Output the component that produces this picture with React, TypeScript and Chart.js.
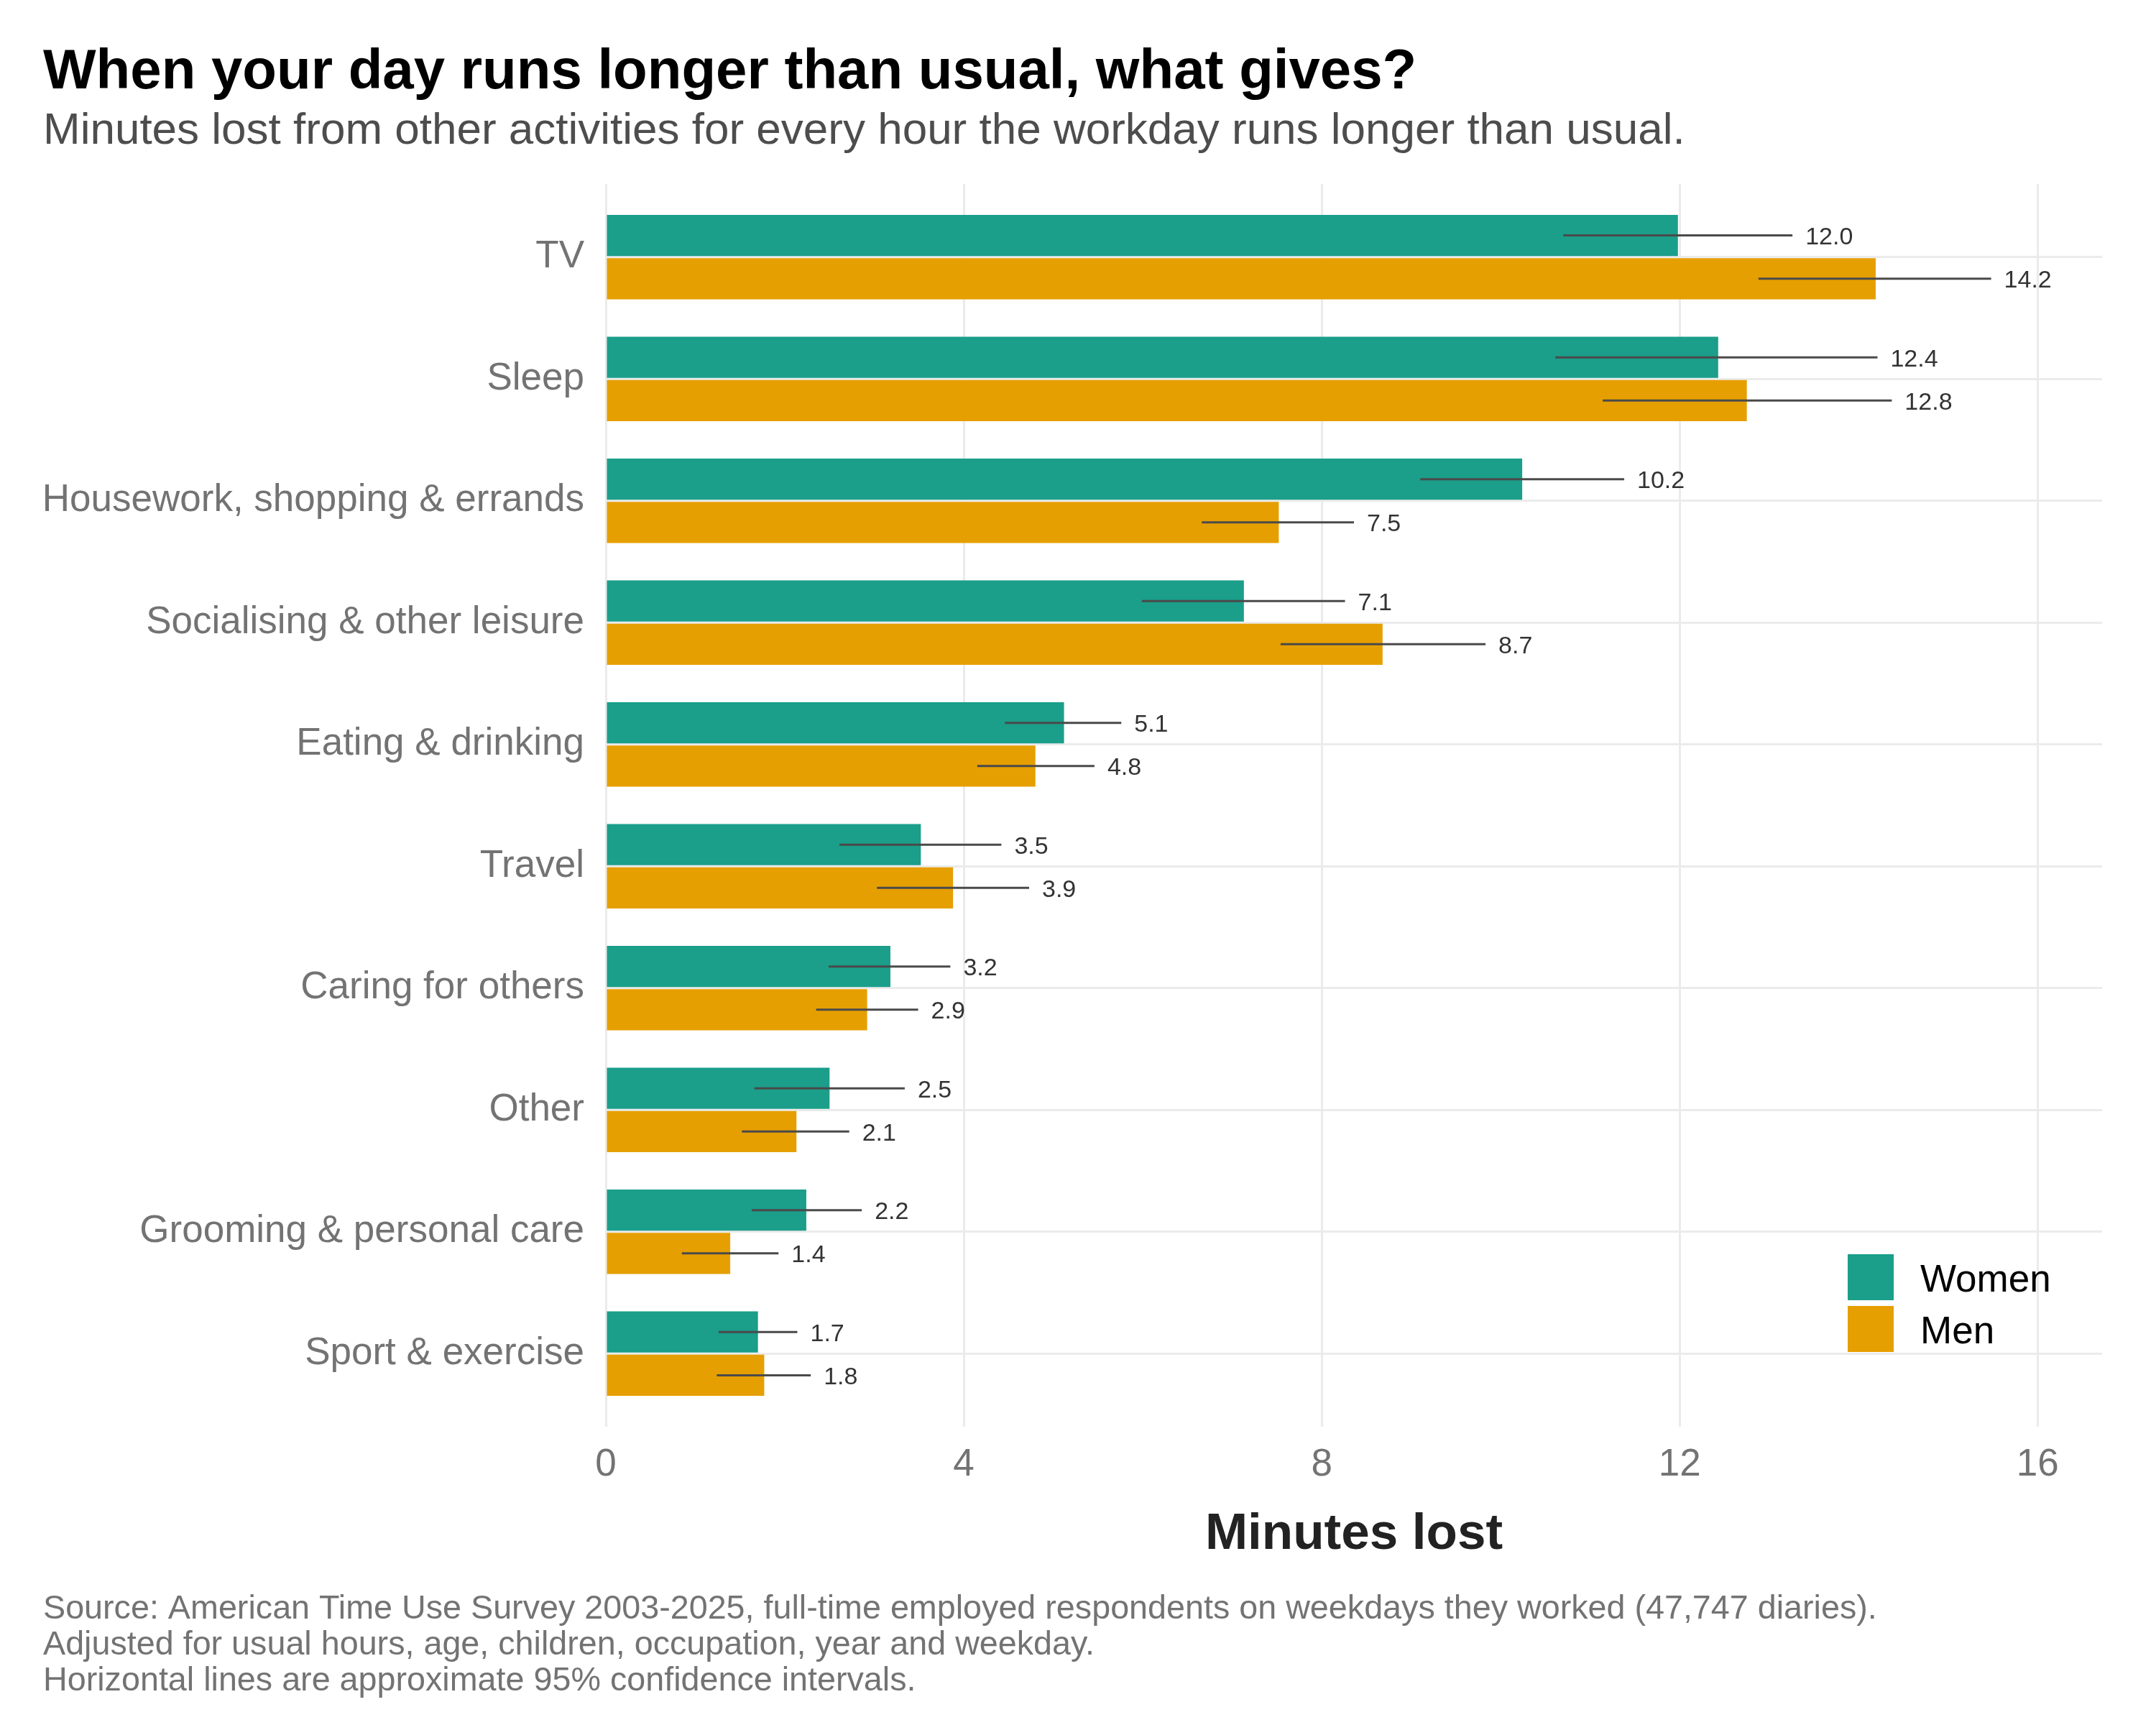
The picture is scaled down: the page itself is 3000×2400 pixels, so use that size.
import React, { useEffect, useRef } from 'react';
import { Chart, registerables } from 'chart.js';

Chart.register(...registerables);

const FONT = "'Liberation Sans', Arial, Helvetica, sans-serif";

const categories = [
  'TV',
  'Sleep',
  'Housework, shopping & errands',
  'Socialising & other leisure',
  'Eating & drinking',
  'Travel',
  'Caring for others',
  'Other',
  'Grooming & personal care',
  'Sport & exercise',
];
const women = [11.98, 12.43, 10.24, 7.13, 5.12, 3.52, 3.18, 2.5, 2.24, 1.7];
const men = [14.19, 12.75, 7.52, 8.68, 4.8, 3.88, 2.92, 2.13, 1.39, 1.77];
const womenLow = [10.7, 10.61, 9.1, 5.99, 4.46, 2.61, 2.49, 1.66, 1.63, 1.26];
const womenHigh = [13.26, 14.21, 11.38, 8.26, 5.76, 4.42, 3.85, 3.34, 2.86, 2.14];
const menLow = [12.88, 11.14, 6.66, 7.54, 4.15, 3.03, 2.35, 1.52, 0.85, 1.24];
const menHigh = [15.48, 14.37, 8.36, 9.83, 5.46, 4.73, 3.49, 2.72, 1.93, 2.29];

const seriesNames = ['Women', 'Men'];
const seriesColors = ['#1b9e8a', '#e69f00'];
const xMin = 0;
const xMax = 16.72;
const xStep = 4;

const titleText = 'When your day runs longer than usual, what gives?';
const subtitleText = 'Minutes lost from other activities for every hour the workday runs longer than usual.';
const xTitleText = 'Minutes lost';
const captionLines = [
  'Source: American Time Use Survey 2003-2025, full-time employed respondents on weekdays they worked (47,747 diaries).',
  'Adjusted for usual hours, age, children, occupation, year and weekday.',
  'Horizontal lines are approximate 95% confidence intervals.',
];

const lows = [womenLow, menLow];
const highs = [womenHigh, menHigh];
const values = [women, men];

const errorBarPlugin = {
  id: 'errorBars',
  afterDatasetsDraw(chart: any) {
    const { ctx } = chart;
    const xs = chart.scales.x;
    ctx.save();
    for (let d = 0; d < 2; d++) {
      const meta = chart.getDatasetMeta(d);
      meta.data.forEach((el: any, j: number) => {
        const y = el.y;
        const x1 = xs.getPixelForValue(lows[d][j]);
        const x2 = xs.getPixelForValue(highs[d][j]);
        ctx.strokeStyle = '#4a4a4a';
        ctx.lineWidth = 3;
        ctx.lineCap = 'butt';
        ctx.beginPath();
        ctx.moveTo(x1, y);
        ctx.lineTo(x2, y);
        ctx.stroke();
        ctx.fillStyle = '#333333';
        ctx.font = `34px ${FONT}`;
        ctx.textAlign = 'left';
        ctx.textBaseline = 'alphabetic';
        ctx.fillText(values[d][j].toFixed(1), x2 + 18, y + 12.5);
      });
    }
    ctx.restore();
  },
};

const decorPlugin = {
  id: 'decor',
  beforeDraw(chart: any) {
    const { ctx } = chart;
    ctx.save();
    ctx.fillStyle = '#ffffff';
    ctx.fillRect(0, 0, chart.width, chart.height);
    ctx.restore();
  },
  afterDraw(chart: any) {
    const { ctx, chartArea } = chart;
    ctx.save();
    ctx.textAlign = 'left';
    ctx.textBaseline = 'alphabetic';
    ctx.fillStyle = '#000000';
    ctx.font = `bold 78px ${FONT}`;
    ctx.fillText(titleText, 60, 123);
    ctx.fillStyle = '#4d4d4d';
    ctx.font = `62px ${FONT}`;
    ctx.fillText(subtitleText, 60, 200);
    ctx.fillStyle = '#737373';
    ctx.font = `46.7px ${FONT}`;
    captionLines.forEach((line, i) => ctx.fillText(line, 60, 2252 + i * 50));

    // legend
    const keyLeft = chartArea.right - 354;
    const keyTop = chartArea.bottom - 240;
    const keySize = 64;
    const keyStep = 72;
    ctx.font = `53px ${FONT}`;
    seriesNames.forEach((name, i) => {
      const top = keyTop + i * keyStep;
      ctx.fillStyle = seriesColors[i];
      ctx.fillRect(keyLeft, top, keySize, keySize);
      ctx.fillStyle = '#000000';
      ctx.fillText(name, keyLeft + 101, top + 52);
    });
    ctx.restore();
  },
};

export default function App() {
  const ref = useRef<HTMLCanvasElement>(null);
  useEffect(() => {
    if (!ref.current) return;
    Chart.defaults.font.family = FONT;
    const chart = new Chart(ref.current, {
      type: 'bar',
      data: {
        datasets: seriesNames.map((name, d) => ({
          label: name,
          data: values[d].map((v, i) => ({ x: v, y: i })),
          backgroundColor: seriesColors[d],
          borderWidth: 0,
          categoryPercentage: 0.71,
          barPercentage: 0.95,
        })),
      },
      options: {
        indexAxis: 'y',
        responsive: false,
        animation: false,
        devicePixelRatio: 1,
        layout: { padding: { left: 0, right: 75, top: 256, bottom: 222 } },
        plugins: {
          legend: { display: false },
          tooltip: { enabled: false },
          title: { display: false },
        },
        scales: {
          x: {
            type: 'linear',
            position: 'bottom',
            min: xMin,
            max: xMax,
            offset: false,
            border: { display: false },
            grid: { color: '#ebebeb', lineWidth: 3, drawTicks: false },
            ticks: {
              stepSize: xStep,
              includeBounds: false,
              padding: 22,
              color: '#737373',
              font: { size: 53, family: FONT },
              maxRotation: 0,
            },
            title: {
              display: true,
              text: xTitleText,
              color: '#222222',
              font: { size: 71, weight: 'bold', family: FONT },
              padding: 0,
            },
            afterFit(scale: any) {
              scale.height = 193;
            },
          },
          y: {
            type: 'linear',
            position: 'left',
            min: -0.6,
            max: 9.6,
            reverse: true,
            offset: false,
            border: { display: false },
            grid: { color: '#ebebeb', lineWidth: 3, drawTicks: false, offset: false },
            ticks: {
              stepSize: 1,
              includeBounds: false,
              autoSkip: false,
              padding: 30,
              color: '#737373',
              font: { size: 53, family: FONT },
              callback: (v: any) => categories[v as number] ?? '',
            },
            afterFit(scale: any) {
              scale.width = 843;
            },
          },
        },
      } as any,
      plugins: [decorPlugin, errorBarPlugin],
    });
    return () => chart.destroy();
  }, []);
  return (
    <div style={{ position: 'absolute', left: 0, top: 0, width: 3000, height: 2400, background: '#ffffff' }}>
      <canvas ref={ref} width={3000} height={2400} style={{ display: 'block', width: 3000, height: 2400 }} />
    </div>
  );
}
